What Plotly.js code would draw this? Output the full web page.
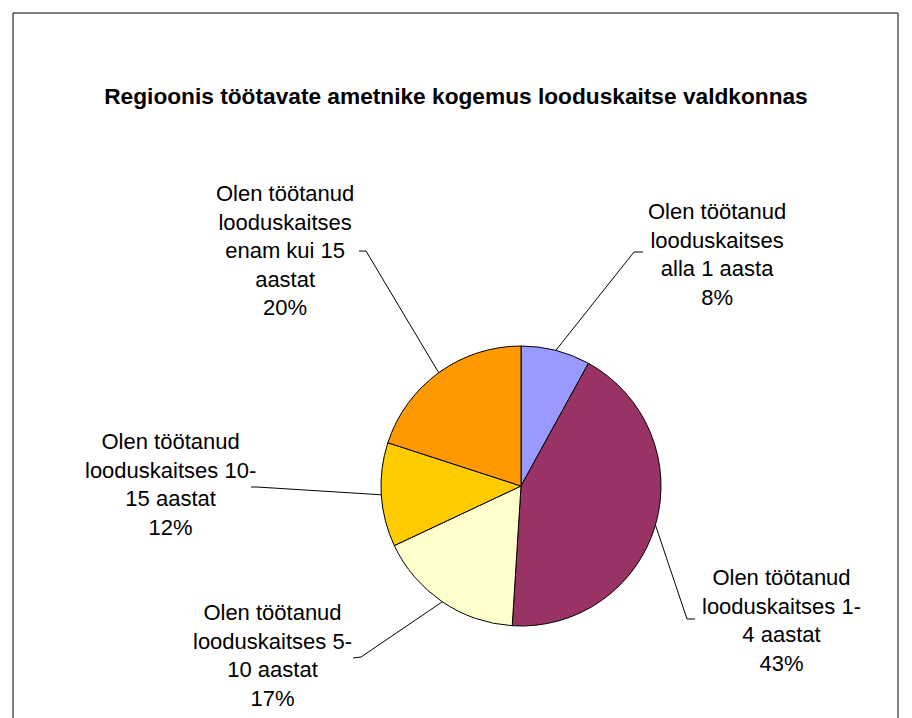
<!DOCTYPE html>
<html>
<head>
<meta charset="utf-8">
<script src="https://cdn.plot.ly/plotly-3.0.1.min.js"></script>
<style>html,body{margin:0;padding:0;background:#fff;}#chart{width:912px;height:718px;}</style>
</head>
<body>
<div id="chart"></div>
<script>
// ---- data ----
const categories = [
  "Olen töötanud<br>looduskaitses<br>alla 1 aasta",
  "Olen töötanud<br>looduskaitses 1-<br>4 aastat",
  "Olen töötanud<br>looduskaitses 5-<br>10 aastat",
  "Olen töötanud<br>looduskaitses 10-<br>15 aastat",
  "Olen töötanud<br>looduskaitses<br>enam kui 15<br>aastat"
];
const values = [8, 43, 17, 12, 20];
const colors = ["#9999FF", "#993366", "#FFFFCC", "#FFCC00", "#FF9900"];
const chartTitle = "Regioonis töötavate ametnike kogemus looduskaitse valdkonnas";

// ---- layout geometry (pixels) ----
const W = 912, H = 718;
const cx = 521, cy = 486, R = 140;
// label centres and elbow points (pixels)
const labelPos = [[717, 255], [781, 620], [272, 655], [170, 484], [285, 250]];
const elbow = [[[643, 252], [634, 252]], [[695, 619], [687, 619]], [[353, 658], [361, 657]], [[251, 487], [257, 487]], [[359, 251], [366, 251]]];

const px = x => x / W;
const py = y => 1 - y / H;

const total = values.reduce((a, b) => a + b, 0);
let cum = 0;
const shapes = [];
const annotations = [];
values.forEach((v, i) => {
  const mid = (cum + v / 2) / total * 2 * Math.PI;
  cum += v;
  const ex = cx + R * Math.sin(mid), ey = cy - R * Math.cos(mid);
  const [a, b] = elbow[i];
  shapes.push({
    type: 'path', xref: 'paper', yref: 'paper',
    path: `M ${px(a[0])} ${py(a[1])} L ${px(b[0])} ${py(b[1])} L ${px(ex)} ${py(ey)}`,
    line: {color: '#000', width: 1}
  });
  annotations.push({
    xref: 'paper', yref: 'paper', x: px(labelPos[i][0]), y: py(labelPos[i][1]),
    xanchor: 'center', yanchor: 'middle', showarrow: false, align: 'center',
    text: categories[i] + '<br>' + Math.round(v / total * 100) + '%',
    font: {family: 'Liberation Sans, Arial, sans-serif', size: 22, color: '#000'}
  });
});
// outer frame
shapes.push({type: 'rect', xref: 'paper', yref: 'paper', x0: px(13), x1: px(898), y0: py(740), y1: py(13), line: {color: '#000', width: 1}});

const trace = {
  type: 'pie', values: values, labels: categories, sort: false,
  direction: 'clockwise', rotation: 0,
  marker: {colors: colors, line: {color: '#000', width: 1}},
  textinfo: 'none', hoverinfo: 'none', showlegend: false,
  domain: {x: [px(cx - R), px(cx + R)], y: [py(cy + R), py(cy - R)]}
};

const layout = {
  width: W, height: H,
  margin: {l: 0, r: 0, t: 0, b: 0},
  paper_bgcolor: '#fff',
  title: {text: '<b>' + chartTitle + '</b>', x: 0.5, xref: 'paper', y: py(96), yref: 'paper', yanchor: 'middle',
          font: {family: 'Liberation Sans, Arial, sans-serif', size: 22.7, color: '#000'}},
  shapes: shapes,
  annotations: annotations,
  showlegend: false
};
Plotly.newPlot('chart', [trace], layout, {displayModeBar: false, staticPlot: true});
</script>
</body>
</html>
